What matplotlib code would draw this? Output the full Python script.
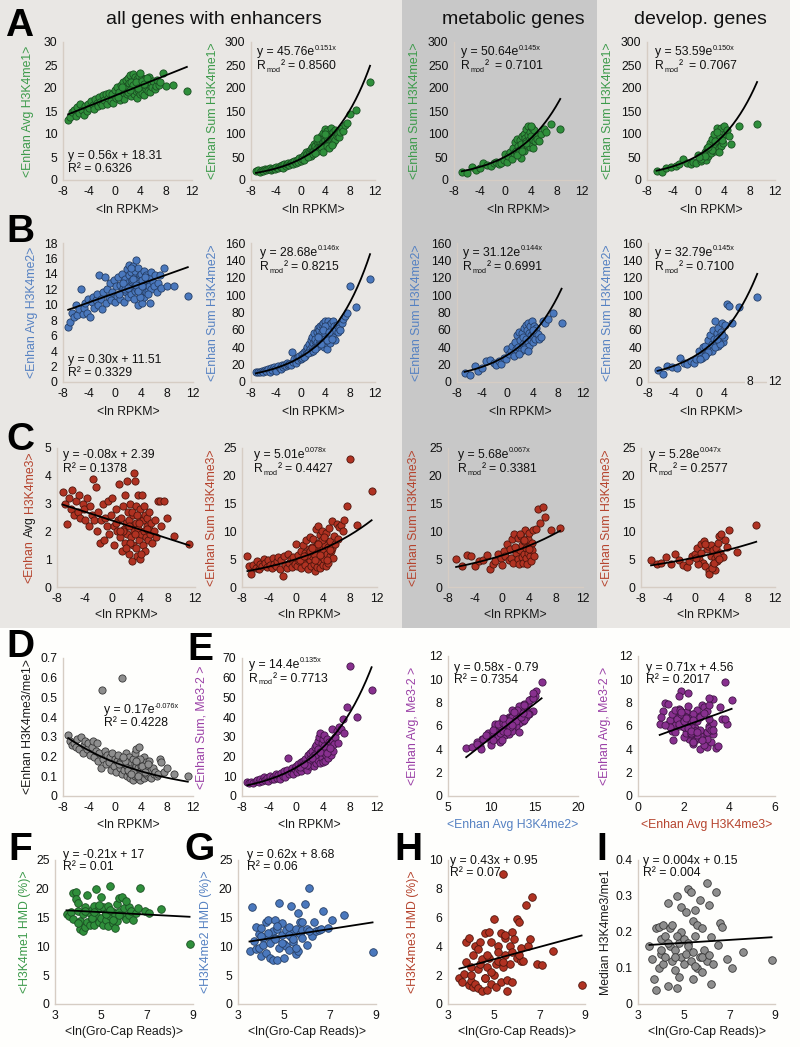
import matplotlib
matplotlib.use("Agg")
import matplotlib.pyplot as plt
from matplotlib.patches import Rectangle
import numpy as np

plt.rcParams['font.family'] = ['Liberation Sans', 'DejaVu Sans']
plt.rcParams['axes.unicode_minus'] = False

# ---------------- data: all genes with enhancers ----------------
x_all = [-7.2, -6.9, -6.6, -6.3, -6.0, -5.8, -5.5, -5.3, -5.0, -4.8,
         -4.6, -4.3, -4.1, -3.9, -3.6, -3.4, -3.2, -3.0, -2.8, -2.6,
         -2.4, -2.2, -2.0, -1.8, -1.6, -1.4, -1.2, -1.0, -0.8, -0.6,
         -0.4, -0.2, 0.0, 0.2, 0.3, 0.5, 0.7, 0.8, 1.0, 1.1,
         1.3, 1.4, 1.5, 1.7, 1.8, 1.9, 2.0, 2.1, 2.2, 2.3,
         2.4, 2.5, 2.6, 2.7, 2.8, 2.9, 3.0, 3.0, 3.1, 3.2,
         3.3, 3.4, 3.5, 3.5, 3.6, 3.7, 3.8, 3.9, 4.0, 4.0,
         4.1, 4.2, 4.3, 4.4, 4.5, 4.6, 4.7, 4.8, 4.9, 5.0,
         5.1, 5.2, 5.3, 5.4, 5.5, 5.6, 5.8, 6.0, 6.2, 6.4,
         6.6, 6.9, 7.1, 7.5, 8.0, 9.0, 11.2, 1.6, 2.6, 3.9,
         0.6, 1.2, 2.0, 2.8, 3.3, 3.6, 4.2, 4.6, 5.0, 2.4]

avg_me1 = [13.0, 13.6, 14.8, 15.3, 14.0, 15.8, 14.6, 16.5, 15.2, 14.2,
           16.0, 15.0, 16.6, 15.6, 17.2, 16.2, 15.4, 17.6, 16.8, 16.0,
           18.0, 17.0, 16.4, 18.4, 17.4, 18.8, 16.6, 17.8, 19.0, 17.2,
           18.6, 16.8, 19.6, 17.8, 20.2, 18.4, 19.2, 17.4, 20.6, 18.2,
           21.2, 19.0, 17.6, 20.0, 21.8, 18.6, 20.6, 22.2, 19.4, 21.0,
           22.8, 19.8, 18.2, 21.4, 23.0, 20.2, 21.8, 18.8, 22.4, 20.4,
           19.4, 22.0, 20.8, 17.8, 21.6, 19.6, 22.6, 20.2, 18.6, 21.4,
           20.0, 22.2, 19.0, 21.0, 20.6, 18.4, 22.0, 19.8, 21.2, 20.4,
           21.6, 19.4, 20.8, 22.4, 19.2, 21.0, 20.2, 21.6, 19.8, 20.4,
           21.8, 20.6, 21.2, 23.3, 20.5, 20.7, 19.4, 19.8, 21.2, 23.2,
           18.0, 20.2, 19.2, 20.6, 21.2, 20.0, 21.6, 20.8, 22.2, 19.6]

sum_me1 = [19, 21, 18, 22, 20, 24, 21, 23, 26, 22,
           25, 27, 23, 29, 26, 31, 28, 33, 27, 35,
           30, 34, 38, 32, 36, 40, 34, 42, 37, 44,
           39, 47, 42, 50, 45, 55, 48, 60, 52, 57,
           64, 55, 60, 68, 58, 72, 62, 66, 78, 70,
           74, 64, 85, 70, 80, 66, 90, 75, 83, 72,
           95, 78, 88, 68, 102, 84, 92, 76, 110, 88,
           96, 82, 106, 90, 78, 100, 86, 94, 112, 84,
           98, 80, 104, 92, 88, 108, 96, 100, 94, 104,
           112, 106, 120, 125, 143, 152, 212, 52, 92, 100,
           44, 50, 56, 62, 72, 60, 74, 70, 76, 58]

avg_me2 = [7.1, 7.8, 8.9, 8.4, 10.0, 8.7, 9.4, 12.0, 8.8, 9.6,
           10.2, 9.0, 10.8, 8.4, 10.4, 11.0, 9.6, 10.6, 11.4, 10.0,
           13.8, 10.8, 9.4, 11.6, 13.6, 10.2, 12.0, 11.0, 12.8, 10.6,
           11.6, 13.2, 10.4, 12.4, 11.2, 13.6, 10.8, 12.6, 11.8, 14.0,
           12.2, 10.4, 13.4, 11.6, 14.6, 12.8, 11.0, 13.8, 15.2, 12.4,
           14.2, 11.4, 13.0, 15.0, 12.2, 10.8, 13.6, 11.8, 14.4, 12.6,
           15.8, 12.0, 13.4, 10.0, 14.8, 12.8, 11.4, 13.8, 12.2, 14.0,
           10.2, 13.2, 12.0, 14.4, 11.0, 12.6, 13.8, 11.6, 12.8, 13.2,
           11.8, 13.6, 12.4, 10.2, 14.2, 12.0, 13.0, 12.4, 13.8, 11.6,
           12.8, 13.8, 12.2, 14.8, 12.4, 12.4, 11.2, 12.0, 13.2, 11.0,
           11.4, 12.8, 12.2, 13.4, 12.6, 11.8, 12.4, 13.6, 11.4, 14.8]

sum_me2 = [11, 12, 11, 13, 12, 14, 13, 15, 12, 16,
           14, 17, 15, 13, 18, 16, 15, 19, 17, 20,
           18, 22, 19, 21, 20, 35, 23, 26, 22, 28,
           25, 30, 27, 32, 28, 34, 30, 37, 33, 40,
           36, 44, 38, 48, 41, 52, 45, 39, 56, 47,
           50, 42, 58, 46, 62, 44, 54, 60, 48, 64,
           52, 66, 46, 58, 68, 40, 62, 55, 70, 50,
           64, 38, 60, 70, 54, 66, 45, 62, 68, 56,
           58, 70, 52, 64, 60, 48, 66, 58, 62, 60,
           68, 72, 76, 80, 110, 86, 118, 34, 40, 64,
           29, 33, 36, 52, 44, 60, 48, 58, 50, 38]

avg_me3 = [3.4, 3.0, 2.25, 3.2, 2.8, 3.5, 2.6, 3.1, 2.7, 3.3,
           2.5, 3.0, 2.8, 2.4, 3.2, 2.2, 2.9, 2.6, 3.9, 2.4,
           3.6, 2.0, 2.7, 1.6, 2.4, 3.0, 1.7, 2.5, 2.2, 3.1,
           1.9, 2.6, 3.2, 2.2, 1.5, 2.8, 2.0, 2.4, 3.7, 1.8,
           2.5, 1.3, 2.9, 2.1, 3.3, 1.6, 2.3, 3.8, 1.9, 2.7,
           1.2, 2.4, 3.0, 1.8, 2.2, 0.95, 2.6, 1.5, 4.1, 2.0,
           3.8, 1.4, 2.3, 2.9, 1.1, 2.1, 3.3, 1.7, 2.5, 1.0,
           2.8, 1.9, 3.3, 1.5, 2.4, 2.0, 1.3, 2.6, 1.8, 2.2,
           2.5, 1.7, 2.1, 2.7, 1.9, 2.3, 1.6, 2.0, 2.4, 1.8,
           3.1, 3.1, 2.2, 3.1, 2.5, 1.85, 1.55, 2.0, 1.6, 2.3,
           2.3, 2.0, 1.4, 2.7, 1.9, 2.6, 1.2, 2.9, 2.1, 2.2]

sum_me3 = [5.5, 3.8, 2.4, 4.0, 3.5, 4.6, 3.2, 4.2, 3.8, 5.0,
           4.4, 3.6, 4.8, 4.0, 3.4, 5.2, 4.2, 3.8, 4.6, 5.4,
           3.2, 4.8, 2.0, 5.6, 4.0, 3.4, 6.0, 4.4, 5.0, 3.6,
           5.4, 4.2, 7.8, 3.8, 5.8, 4.6, 6.4, 3.4, 7.6, 5.0,
           6.2, 4.0, 8.4, 5.4, 3.2, 6.8, 4.8, 9.0, 3.8, 7.2,
           5.6, 8.6, 4.2, 6.6, 2.8, 10.4, 5.2, 7.4, 3.6, 8.0,
           11.0, 4.6, 6.2, 9.4, 3.4, 7.0, 5.4, 10.0, 4.0, 6.8,
           8.8, 5.0, 7.6, 3.8, 9.8, 6.0, 4.4, 7.2, 10.6, 5.6,
           8.2, 6.4, 11.8, 7.0, 5.2, 9.2, 7.8, 11.4, 8.6, 10.8,
           11.2, 10.0, 12.0, 14.5, 23.0, 11.2, 17.2, 5.8, 6.0, 8.4,
           4.8, 5.6, 6.4, 4.8, 7.8, 5.8, 9.0, 4.8, 6.6, 7.0]

ratio_me3_me1 = [0.31, 0.28, 0.26, 0.27, 0.25, 0.29, 0.24, 0.30, 0.22, 0.26,
                 0.28, 0.24, 0.27, 0.21, 0.25, 0.28, 0.20, 0.23, 0.27, 0.18,
                 0.22, 0.14, 0.54, 0.19, 0.23, 0.16, 0.21, 0.17, 0.20, 0.13,
                 0.22, 0.15, 0.19, 0.12, 0.18, 0.21, 0.14, 0.17, 0.60, 0.11,
                 0.19, 0.13, 0.16, 0.22, 0.10, 0.15, 0.18, 0.12, 0.20, 0.09,
                 0.14, 0.17, 0.11, 0.19, 0.08, 0.13, 0.16, 0.22, 0.10, 0.15,
                 0.24, 0.12, 0.09, 0.17, 0.14, 0.25, 0.11, 0.08, 0.15, 0.13,
                 0.10, 0.16, 0.12, 0.20, 0.09, 0.14, 0.11, 0.17, 0.13, 0.10,
                 0.15, 0.12, 0.18, 0.10, 0.13, 0.09, 0.14, 0.11, 0.12, 0.10,
                 0.11, 0.19, 0.17, 0.12, 0.14, 0.11, 0.10, 0.18, 0.12, 0.19,
                 0.16, 0.20, 0.13, 0.12, 0.18, 0.10, 0.15, 0.12, 0.16, 0.11]

sum_me32 = [7.0, 6.5, 7.2, 6.8, 7.5, 8.0, 7.2, 8.5, 7.8, 9.5,
            8.2, 9.0, 7.6, 10.0, 8.8, 9.6, 8.4, 11.0, 9.2, 10.4,
            8.6, 11.8, 10.0, 12.6, 9.4, 13.0, 19.5, 11.2, 12.0, 14.0,
            11.0, 13.6, 15.0, 12.4, 16.2, 13.8, 17.0, 12.8, 15.6, 18.0,
            14.2, 19.0, 16.4, 13.4, 21.0, 17.2, 15.0, 22.0, 18.6, 16.0,
            23.0, 17.8, 20.4, 15.2, 25.0, 19.0, 26.0, 16.6, 22.4, 28.0,
            18.4, 30.0, 21.4, 16.8, 32.0, 24.0, 19.4, 27.0, 17.2, 29.0,
            22.0, 31.0, 18.0, 26.0, 20.6, 29.0, 24.4, 19.4, 27.4, 23.0,
            25.0, 21.0, 28.4, 34.0, 22.6, 26.6, 30.0, 33.0, 27.0, 35.0,
            34.0, 39.0, 32.0, 45.0, 66.0, 40.0, 54.0, 15.8, 21.0, 23.6,
            14.6, 16.0, 18.6, 20.6, 24.0, 22.4, 25.6, 21.6, 24.6, 19.4]

avg_me32 = [4.1, 4.2, 4.9, 4.6, 5.2, 4.3, 5.1, 6.0, 4.0, 5.3,
            5.6, 4.9, 5.2, 4.5, 6.0, 5.3, 5.4, 4.9, 6.2, 4.6,
            7.6, 5.9, 5.2, 6.6, 7.0, 5.5, 6.8, 5.0, 7.1, 5.8,
            6.3, 7.4, 5.7, 6.0, 6.4, 7.8, 5.1, 7.0, 6.6, 7.5,
            5.8, 6.2, 7.6, 5.4, 8.3, 6.1, 6.0, 6.6, 9.0, 6.9,
            8.0, 5.3, 7.3, 8.6, 6.7, 6.2, 6.4, 5.6, 8.2, 5.9,
            9.8, 6.5, 6.4, 4.4, 7.3, 7.2, 6.3, 6.7, 5.6, 6.8,
            4.8, 6.3, 5.7, 7.0, 4.6, 6.9, 7.9, 5.2, 6.0, 7.7,
            5.5, 6.6, 6.8, 5.7, 7.0, 5.3, 7.4, 5.9, 6.5, 6.2,
            6.6, 7.8, 5.8, 8.4, 5.6, 7.4, 4.8, 6.4, 5.5, 5.4,
            5.6, 6.4, 5.9, 6.8, 7.2, 5.5, 6.1, 7.1, 6.7, 8.8]

# ---------------- data: metabolic genes ----------------
x_met = [-6.8, -6.0, -5.2, -4.6, -4.0, -3.4, -2.8, -2.2, -1.8, -1.4,
         -1.0, -0.6, -0.2, 0.0, 0.3, 0.5, 0.8, 1.0, 1.2, 1.4,
         1.5, 1.7, 1.8, 2.0, 2.1, 2.3, 2.4, 2.5, 2.7, 2.8,
         2.9, 3.0, 3.1, 3.2, 3.3, 3.4, 3.5, 3.6, 3.7, 3.8,
         3.9, 4.0, 4.1, 4.2, 4.3, 4.4, 4.5, 4.6, 4.8, 5.0,
         5.3, 5.6, 6.0, 6.4, 7.2, 8.6, 1.9, 2.6, 3.3, 4.0]
met_sum_me1 = [18, 16, 28, 22, 26, 36, 33, 30, 36, 40,
               34, 38, 44, 56, 40, 52, 60, 46, 70, 58,
               82, 62, 90, 74, 66, 86, 48, 78, 96, 70,
               100, 64, 92, 84, 110, 76, 98, 118, 88, 72,
               104, 80, 95, 112, 86, 70, 108, 84, 96, 90,
               85, 100, 110, 105, 122, 110, 54, 64, 80, 118]
met_sum_me2 = [10, 8, 18, 13, 16, 24, 25, 22, 20, 24,
               21, 28, 26, 38, 32, 36, 42, 30, 46, 38,
               54, 40, 58, 48, 36, 56, 52, 44, 62, 40,
               66, 50, 60, 46, 68, 42, 56, 64, 48, 54,
               70, 46, 58, 52, 64, 50, 62, 56, 55, 50,
               52, 70, 68, 72, 80, 68, 32, 38, 36, 60]
met_sum_me3 = [5.0, 3.7, 5.7, 5.6, 3.7, 4.6, 4.8, 5.8, 3.2, 4.1,
               4.6, 6.0, 5.2, 4.0, 6.4, 5.6, 7.8, 4.8, 6.8, 5.2,
               8.6, 4.4, 9.6, 6.2, 7.0, 5.0, 8.8, 4.2, 6.6, 9.2,
               5.4, 7.6, 4.4, 8.2, 6.0, 10.2, 5.2, 7.0, 4.2, 8.6,
               6.2, 9.8, 5.6, 7.4, 4.6, 8.0, 6.6, 10.2, 5.6, 10.4,
               14.0, 11.6, 14.4, 12.6, 10.2, 10.7, 7.2, 9.6, 8.4, 6.8]

# ---------------- data: developmental genes ----------------
x_dev = [-6.5, -5.6, -5.0, -4.2, -3.5, -3.0, -2.4, -1.8, -1.2, -0.8,
         -0.4, 0.0, 0.4, 0.7, 1.0, 1.2, 1.4, 1.6, 1.8, 2.0,
         2.2, 2.4, 2.5, 2.7, 2.8, 3.0, 3.1, 3.2, 3.4, 3.5,
         3.6, 3.8, 4.0, 4.2, 4.5, 4.8, 5.2, 6.4, 9.2, 2.1,
         0.5, 1.5, 2.6, 3.3, 1.0, 2.9, 3.7, 0.2]
dev_sum_me1 = [20, 18, 27, 28, 30, 35, 45, 38, 34, 40,
               36, 55, 42, 48, 60, 44, 70, 52, 80, 58,
               90, 66, 100, 62, 76, 114, 86, 70, 94, 74,
               112, 80, 118, 100, 108, 96, 78, 117, 122, 65,
               46, 72, 84, 60, 52, 104, 88, 50]
dev_sum_me2 = [14, 9, 18, 17, 16, 28, 22, 21, 24, 22,
               26, 36, 30, 40, 42, 32, 48, 38, 54, 44,
               60, 50, 70, 46, 56, 62, 42, 52, 48, 58,
               68, 46, 52, 66, 90, 88, 68, 86, 98, 36,
               28, 34, 40, 44, 30, 50, 54, 27]
dev_sum_me3 = [4.8, 4.1, 4.4, 5.4, 4.2, 6.0, 4.9, 3.9, 3.6, 4.6,
               5.5, 6.0, 7.0, 5.0, 7.8, 4.4, 8.2, 3.8, 6.8, 7.4,
               2.8, 5.6, 7.6, 4.2, 6.6, 3.0, 5.2, 7.0, 4.6, 8.0,
               9.2, 6.2, 9.6, 5.4, 8.4, 7.2, 10.2, 6.3, 11.2, 2.4,
               4.2, 7.8, 3.4, 5.8, 6.2, 4.4, 5.0, 5.2]

# ---------------- data: Gro-Cap enhancers ----------------
x_gro = [3.5, 3.6, 3.7, 3.8, 3.8, 3.9, 3.9, 4.0, 4.0, 4.1,
         4.1, 4.2, 4.2, 4.3, 4.3, 4.4, 4.4, 4.5, 4.5, 4.6,
         4.6, 4.7, 4.7, 4.8, 4.8, 4.9, 4.9, 5.0, 5.0, 5.1,
         5.1, 5.2, 5.2, 5.3, 5.3, 5.4, 5.4, 5.5, 5.5, 5.6,
         5.6, 5.7, 5.7, 5.8, 5.8, 5.9, 6.0, 6.0, 6.1, 6.2,
         6.2, 6.3, 6.4, 6.5, 6.6, 6.7, 6.9, 7.1, 7.6, 8.85,
         4.3, 4.6, 4.9, 5.2, 5.5, 5.8, 4.0, 4.7, 5.4, 6.1]
hmd_me1 = [15.6, 15.2, 16.0, 19.2, 14.8, 19.4, 18.2, 17.6, 16.2, 13.0,
           14.4, 12.6, 15.6, 13.4, 16.8, 19.0, 14.2, 15.8, 13.8, 16.4,
           14.8, 17.0, 13.8, 20.0, 15.4, 16.6, 14.2, 15.0, 18.6, 13.8,
           16.8, 14.6, 15.8, 17.0, 13.6, 20.4, 15.2, 16.0, 14.0, 13.2,
           15.6, 17.4, 14.4, 18.4, 16.0, 18.6, 15.2, 16.6, 14.8, 15.4,
           16.8, 16.2, 14.6, 15.8, 16.6, 20.2, 16.2, 15.8, 16.5, 10.5,
           16.2, 15.0, 17.2, 15.6, 14.6, 15.4, 14.0, 16.0, 16.4, 17.8]
hmd_me2 = [9.2, 16.8, 11.0, 13.4, 9.6, 12.2, 9.7, 13.2, 8.4, 11.4,
           10.2, 14.2, 8.8, 11.8, 14.6, 10.6, 8.0, 12.6, 7.6, 14.6,
           11.4, 13.0, 7.6, 17.5, 9.8, 12.0, 14.0, 10.4, 8.0, 12.8,
           10.0, 13.4, 9.4, 17.0, 11.6, 12.4, 10.8, 13.0, 8.6, 15.8,
           9.2, 12.2, 14.2, 11.4, 12.8, 17.4, 13.0, 10.2, 20.2, 12.4,
           11.8, 14.2, 12.6, 12.8, 13.0, 16.1, 13.2, 14.5, 15.4, 9.0,
           12.4, 11.2, 10.6, 12.0, 9.8, 14.2, 11.8, 13.6, 11.2, 12.6]
hmd_me3 = [1.8, 1.5, 2.1, 2.9, 4.3, 1.3, 4.6, 1.6, 2.6, 1.2,
           3.4, 1.4, 4.0, 2.4, 1.1, 4.3, 2.8, 0.9, 3.1, 1.8,
           4.9, 2.6, 1.0, 5.0, 3.2, 1.4, 4.3, 5.9, 2.0, 2.8,
           1.2, 4.0, 3.0, 4.9, 1.5, 9.0, 2.6, 4.6, 3.4, 1.7,
           0.9, 4.0, 2.8, 5.0, 3.6, 4.5, 5.9, 3.2, 5.7, 3.0,
           3.9, 3.0, 6.9, 4.0, 4.5, 7.4, 2.8, 2.7, 3.7, 1.3,
           3.8, 1.8, 2.2, 3.6, 4.8, 1.5, 2.0, 3.4, 2.9, 3.4]
median_ratio = [0.16, 0.125, 0.07, 0.21, 0.04, 0.10, 0.215, 0.18, 0.14, 0.22,
                0.11, 0.19, 0.13, 0.28, 0.05, 0.21, 0.16, 0.12, 0.22, 0.095,
                0.15, 0.045, 0.30, 0.17, 0.075, 0.27, 0.13, 0.18, 0.11, 0.255,
                0.14, 0.32, 0.17, 0.31, 0.12, 0.23, 0.07, 0.19, 0.26, 0.10,
                0.22, 0.29, 0.13, 0.21, 0.09, 0.15, 0.335, 0.12, 0.275, 0.185,
                0.055, 0.11, 0.31, 0.165, 0.225, 0.215, 0.125, 0.10, 0.145, 0.122,
                0.17, 0.13, 0.20, 0.16, 0.105, 0.13, 0.15, 0.19, 0.145, 0.135]

# ---------------- fitted trend-line coefficients (as printed) ----------------
fit_A1 = (0.56, 18.31); fit_A2 = (45.76, 0.151); fit_A3 = (50.64, 0.145); fit_A4 = (53.59, 0.150)
fit_B1 = (0.30, 11.51); fit_B2 = (28.68, 0.146); fit_B3 = (31.12, 0.144); fit_B4 = (32.79, 0.145)
fit_C1 = (-0.08, 2.39); fit_C2 = (5.01, 0.078); fit_C3 = (5.68, 0.067); fit_C4 = (5.28, 0.047)
fit_D = (0.17, -0.076); fit_E1 = (14.4, 0.135); fit_E2 = (0.58, -0.79); fit_E3 = (0.71, 4.56)
fit_F = (-0.21, 17.0); fit_G = (0.62, 8.68); fit_H = (0.43, 0.95); fit_I = (0.004, 0.15)

column_titles = ["all genes with enhancers", "metabolic genes", "develop. genes"]

# ---------------- styling ----------------
W, H = 800, 1047
fig = plt.figure(figsize=(W / 100, H / 100), dpi=100)
fig.patch.set_facecolor('#fefefc')
renderer = fig.canvas.get_renderer()

def rect(x0, y0, x1, y1, color):
    fig.patches.append(Rectangle((x0 / W, 1 - y1 / H), (x1 - x0) / W, (y1 - y0) / H,
                                 transform=fig.transFigure, facecolor=color,
                                 edgecolor='none', zorder=-10))

rect(0, 0, 790, 628, '#e9e7e4')
rect(402, 0, 597, 628, '#c8c8c8')

GREEN = ('#2f8f3b', '#1a4f22'); BLUE = ('#4a78bd', '#263f66'); RED = ('#b03222', '#4f160d')
GRAY = ('#8e8e8e', '#383838'); PURPLE = ('#88308f', '#431748')
C_GREEN = '#3c9a4a'; C_BLUE = '#5581c2'; C_RED = '#b5432d'; C_PURPLE = '#9a3fa6'; C_BLACK = '#1a1a1a'

TICK_FS = 8.7
LAB_FS = 8.8
EQ_FS = 8.8
SMALL_FS = 5.2
SPINE = '#d6cdc4'

def px(x, y):
    return x / W, 1 - y / H

def make_ax(l, r, t, b, xlim, xticks, ylim, yticks, ylabel, ycol, ylx, xlabel, xcol, xly,
            yfmt=None):
    ax = fig.add_axes([l / W, 1 - b / H, (r - l) / W, (b - t) / H])
    ax.set_facecolor('none')
    ax.set_xlim(*xlim); ax.set_ylim(*ylim)
    ax.set_xticks(xticks); ax.set_yticks(yticks)
    if yfmt is not None:
        ax.set_yticklabels([yfmt(v) for v in yticks])
    else:
        ax.set_yticklabels([('%g' % v) for v in yticks])
    ax.set_xticklabels([('%g' % v) for v in xticks])
    for s in ['top', 'right']:
        ax.spines[s].set_visible(False)
    for s in ['left', 'bottom']:
        ax.spines[s].set_color(SPINE); ax.spines[s].set_linewidth(1.0)
    ax.tick_params(length=0, labelsize=TICK_FS, colors='#111111', pad=4)
    if ylabel:
        ax.set_ylabel(ylabel, color=ycol, fontsize=LAB_FS)
        ax.yaxis.set_label_coords((ylx - l) / (r - l), 0.5)
        ax.yaxis.label.set_va('center')
    ax.set_xlabel(xlabel, color=xcol, fontsize=LAB_FS)
    ax.xaxis.set_label_coords(0.5, -(xly - b) / (b - t))
    ax.xaxis.label.set_va('center')
    return ax

def vlabel(xc, yc, parts):
    """vertical multi-coloured label read bottom-to-top; parts: (text, color)"""
    texts = [fig.text(0, 0, s, color=c, fontsize=LAB_FS, rotation=90, rotation_mode='anchor',
                      ha='left', va='baseline') for s, c in parts]
    hs = [t.get_window_extent(renderer).height for t in texts]
    gap = 3.4
    total = sum(hs) + gap * (len(hs) - 1)
    y = yc + total / 2
    for t, h in zip(texts, hs):
        t.set_position(px(xc + 4.5, y))
        y -= h + gap

def scatter(ax, x, y, col, s=27):
    ax.scatter(x, y, s=s, c=col[0], edgecolors=col[1], linewidths=0.6, zorder=2, clip_on=False)

def lin(ax, x, fit):
    xs = np.linspace(min(x), max(x), 50)
    ax.plot(xs, fit[0] * xs + fit[1], color='black', lw=1.3, zorder=3)

def expo(ax, x, fit):
    xs = np.linspace(min(x), max(x), 200)
    ax.plot(xs, fit[0] * np.exp(fit[1] * xs), color='black', lw=1.3, zorder=3)

def rich(xp, yp, parts):
    """parts: list of (text, fontsize, dy_px, gap_px_before)"""
    x = xp
    for s, fs, dy, gap in parts:
        x += gap
        t = fig.text(*px(x, yp + dy), s, fontsize=fs, ha='left', va='center', color='#111111')
        x += t.get_window_extent(renderer).width

def eq(xp, yp, s):
    fig.text(*px(xp, yp), s, fontsize=EQ_FS, ha='left', va='center', color='#111111')

def fmt_lin(fit):
    a, b = fit
    sign = '+' if b >= 0 else '-'
    bs = ('%g' % abs(b)) if abs(b) == int(abs(b)) else ('%.2f' % abs(b))
    a_s = ('%.2f' % a) if abs(a) >= 0.01 else ('%.3f' % a)
    return 'y = %sx %s %s' % (a_s, sign, bs)

def eq_lin(xp, yp, fit, r2, dy=13):
    eq(xp, yp, fmt_lin(fit))
    eq(xp, yp + dy, 'R² = %s' % r2)

def eq_exp(xp, yp, fit, r2, mod=True, dy=14, gap=0):
    a, k = fit
    rich(xp, yp, [('y = %ge' % a, EQ_FS, 0, 0), ('%.3fx' % k, SMALL_FS, -4, 0.5)])
    if mod:
        rich(xp, yp + dy, [('R', EQ_FS, 0, 0), ('mod', SMALL_FS, 4, 0.3),
                           ('²', EQ_FS, 0, 0.5), ('= %s' % r2, EQ_FS, 0, 3 + gap)])
    else:
        eq(xp, yp + dy, 'R² = %s' % r2)

XR = (-8, 12); XT = [-8, -4, 0, 4, 8, 12]
RP = '<ln RPKM>'

# ---------------- Row A ----------------
ax = make_ax(63, 192, 42, 180, XR, XT, (0, 30), range(0, 31, 5), '<Enhan Avg H3K4me1>', C_GREEN, 28, RP, C_BLACK, 210)
scatter(ax, x_all, avg_me1, GREEN); lin(ax, x_all, fit_A1)
eq_lin(68, 156, fit_A1, '0.6326')
ax = make_ax(251, 375, 42, 180, XR, XT, (0, 300), range(0, 301, 50), '<Enhan Sum H3K4me1>', C_GREEN, 213, RP, C_BLACK, 210)
scatter(ax, x_all, sum_me1, GREEN); expo(ax, x_all, fit_A2)
eq_exp(257, 52, fit_A2, '0.8560')
ax = make_ax(454, 582, 42, 180, XR, XT, (0, 300), range(0, 301, 50), '<Enhan Sum H3K4me1>', C_GREEN, 415, RP, C_BLACK, 210)
scatter(ax, x_met, met_sum_me1, GREEN); expo(ax, x_met, fit_A3)
eq_exp(461, 52, fit_A3, '0.7101', gap=3)
ax = make_ax(647, 775, 42, 180, XR, XT, (0, 300), range(0, 301, 50), '<Enhan Sum H3K4me1>', C_GREEN, 608, RP, C_BLACK, 210)
scatter(ax, x_dev, dev_sum_me1, GREEN); expo(ax, x_dev, fit_A4)
eq_exp(655, 52, fit_A4, '0.7067', gap=3)

# ---------------- Row B ----------------
ax = make_ax(63, 193, 243, 382, XR, XT, (0, 18), range(0, 19, 2), '<Enhan Avg H3K4me2>', C_BLUE, 32, RP, C_BLACK, 412)
scatter(ax, x_all, avg_me2, BLUE); lin(ax, x_all, fit_B1)
eq_lin(68, 360, fit_B1, '0.3329')
ax = make_ax(251, 375, 243, 382, XR, XT, (0, 160), range(0, 161, 20), '<Enhan Sum H3K4me2>', C_BLUE, 213, RP, C_BLACK, 412)
scatter(ax, x_all, sum_me2, BLUE); expo(ax, x_all, fit_B2)
eq_exp(260, 253, fit_B2, '0.8215')
ax = make_ax(457, 583, 243, 382, XR, XT, (0, 160), range(0, 161, 20), '<Enhan Sum H3K4me2>', C_BLUE, 417, RP, C_BLACK, 412)
scatter(ax, x_met, met_sum_me2, BLUE); expo(ax, x_met, fit_B3)
eq_exp(463, 253, fit_B3, '0.6991')
ax = make_ax(648, 775, 243, 382, XR, XT, (0, 160), range(0, 161, 20), '<Enhan Sum H3K4me2>', C_BLUE, 608, RP, C_BLACK, 412)
ax.set_xticklabels(['-8', '-4', '0', '4', '', ''])
scatter(ax, x_dev, dev_sum_me2, BLUE); expo(ax, x_dev, fit_B4)
for v in (8, 12):
    ax.text(v, 0, '%d' % v, fontsize=TICK_FS, ha='center', va='center', color='#111111',
            bbox=dict(facecolor='#e9e7e4', edgecolor='none', pad=0.6), zorder=5)
eq_exp(655, 253, fit_B4, '0.7100')

# ---------------- Row C ----------------
ax = make_ax(57, 195, 448, 587, XR, XT, (0, 5), range(0, 6), '', C_RED, 28, RP, C_BLACK, 615)
vlabel(28, 517.5, [('<Enhan', C_RED), ('Avg', C_BLACK), ('H3K4me3>', C_RED)])
scatter(ax, x_all, avg_me3, RED); lin(ax, x_all, fit_C1)
eq_lin(63, 455, fit_C1, '0.1378', dy=14)
ax = make_ax(242, 377, 448, 587, XR, XT, (0, 25), range(0, 26, 5), '<Enhan Sum H3K4me3>', C_RED, 212, RP, C_BLACK, 615)
scatter(ax, x_all, sum_me3, RED); expo(ax, x_all, fit_C2)
eq_exp(254, 455, fit_C2, '0.4427')
ax = make_ax(448, 583, 448, 587, XR, XT, (0, 25), range(0, 26, 5), '<Enhan Sum H3K4me3>', C_RED, 414, RP, C_BLACK, 615)
scatter(ax, x_met, met_sum_me3, RED); expo(ax, x_met, fit_C3)
eq_exp(458, 455, fit_C3, '0.3381')
ax = make_ax(641, 775, 448, 587, XR, XT, (0, 25), range(0, 26, 5), '<Enhan Sum H3K4me3>', C_RED, 607, RP, C_BLACK, 615)
scatter(ax, x_dev, dev_sum_me3, RED); expo(ax, x_dev, fit_C4)
eq_exp(649, 455, fit_C4, '0.2577')

# ---------------- Row D / E ----------------
ax = make_ax(63, 193, 658, 796, XR, XT, (0, 0.7), [0, 0.1, 0.2, 0.3, 0.4, 0.5, 0.6, 0.7],
             '<Enhan H3K4me3/me1>', C_BLACK, 28, RP, C_BLACK, 825, yfmt=lambda v: '%g' % round(v, 1))
scatter(ax, x_all, ratio_me3_me1, GRAY); expo(ax, x_all, fit_D)
eq_exp(104, 710, fit_D, '0.4228', mod=False, dy=13)
ax = make_ax(242, 377, 658, 796, XR, XT, (0, 70), range(0, 71, 10), '<Enhan Sum, Me3-2 >', C_PURPLE, 202, RP, C_BLACK, 825)
scatter(ax, x_all, sum_me32, PURPLE); expo(ax, x_all, fit_E1)
eq_exp(249, 665, fit_E1, '0.7713')
ax = make_ax(448, 578, 656, 796, (5, 20), [5, 10, 15, 20], (0, 12), range(0, 13, 2), '<Enhan Avg, Me3-2 >', C_PURPLE, 413,
             '<Enhan Avg H3K4me2>', C_BLUE, 825)
scatter(ax, avg_me2, avg_me32, PURPLE); lin(ax, avg_me2, fit_E2)
eq_lin(454, 668, fit_E2, '0.7354', dy=12)
ax = make_ax(638, 775, 656, 796, (0, 6), [0, 2, 4, 6], (0, 12), range(0, 13, 2), '<Enhan Avg, Me3-2 >', C_PURPLE, 605,
             '<Enhan Avg H3K4me3>', C_RED, 825)
scatter(ax, avg_me3, avg_me32, PURPLE); lin(ax, avg_me3, fit_E3)
eq_lin(646, 668, fit_E3, '0.2017', dy=12)

# ---------------- Row F - I ----------------
GX = (3, 9); GT = [3, 5, 7, 9]; GL = '<ln(Gro-Cap Reads)>'
ax = make_ax(55, 193, 860, 1004, GX, GT, (0, 25), range(0, 26, 5), '<H3K4me1 HMD (%)>', C_GREEN, 25, GL, C_BLACK, 1032)
scatter(ax, x_gro, hmd_me1, GREEN, s=30); lin(ax, x_gro, fit_F)
eq(63, 855, 'y = -0.21x + 17'); eq(63, 867, 'R² = 0.01')
ax = make_ax(238, 376, 860, 1004, GX, GT, (0, 25), range(0, 26, 5), '<H3K4me2 HMD (%)>', C_BLUE, 206, GL, C_BLACK, 1032)
scatter(ax, x_gro, hmd_me2, BLUE, s=30); lin(ax, x_gro, fit_G)
eq(247, 855, 'y = 0.62x + 8.68'); eq(247, 867, 'R² = 0.06')
ax = make_ax(448, 585, 860, 1004, GX, GT, (0, 10), range(0, 11, 2), '<H3K4me3 HMD (%)>', C_RED, 413, GL, C_BLACK, 1032)
scatter(ax, x_gro, hmd_me3, RED, s=30); lin(ax, x_gro, fit_H)
eq(450, 861, 'y = 0.43x + 0.95'); eq(450, 873, 'R² = 0.07')
ax = make_ax(638, 775, 860, 1004, GX, GT, (0, 0.4), [0, 0.1, 0.2, 0.3, 0.4], 'Median H3K4me3/me1', C_BLACK, 606, GL, C_BLACK, 1032,
             yfmt=lambda v: '%g' % round(v, 1))
scatter(ax, x_gro, median_ratio, GRAY, s=30); lin(ax, x_gro, fit_I)
eq(643, 861, 'y = 0.004x + 0.15'); eq(643, 873, 'R² = 0.004')

# ---------------- titles and panel letters ----------------
for t, xc in zip(column_titles, [214, 513, 700]):
    fig.text(*px(xc, 19), t, fontsize=14, ha='center', va='center', color='#111111')
for L, (xp, yp) in {'A': (19, 26), 'B': (20, 232), 'C': (20, 440), 'D': (20, 647), 'E': (200, 650),
                    'F': (20, 850), 'G': (200, 850), 'H': (408, 850), 'I': (602, 850)}.items():
    fig.text(*px(xp, yp), L, fontsize=28, fontweight='bold', ha='center', va='center', color='black')

fig.savefig('out.png', dpi=100, facecolor=fig.get_facecolor())
